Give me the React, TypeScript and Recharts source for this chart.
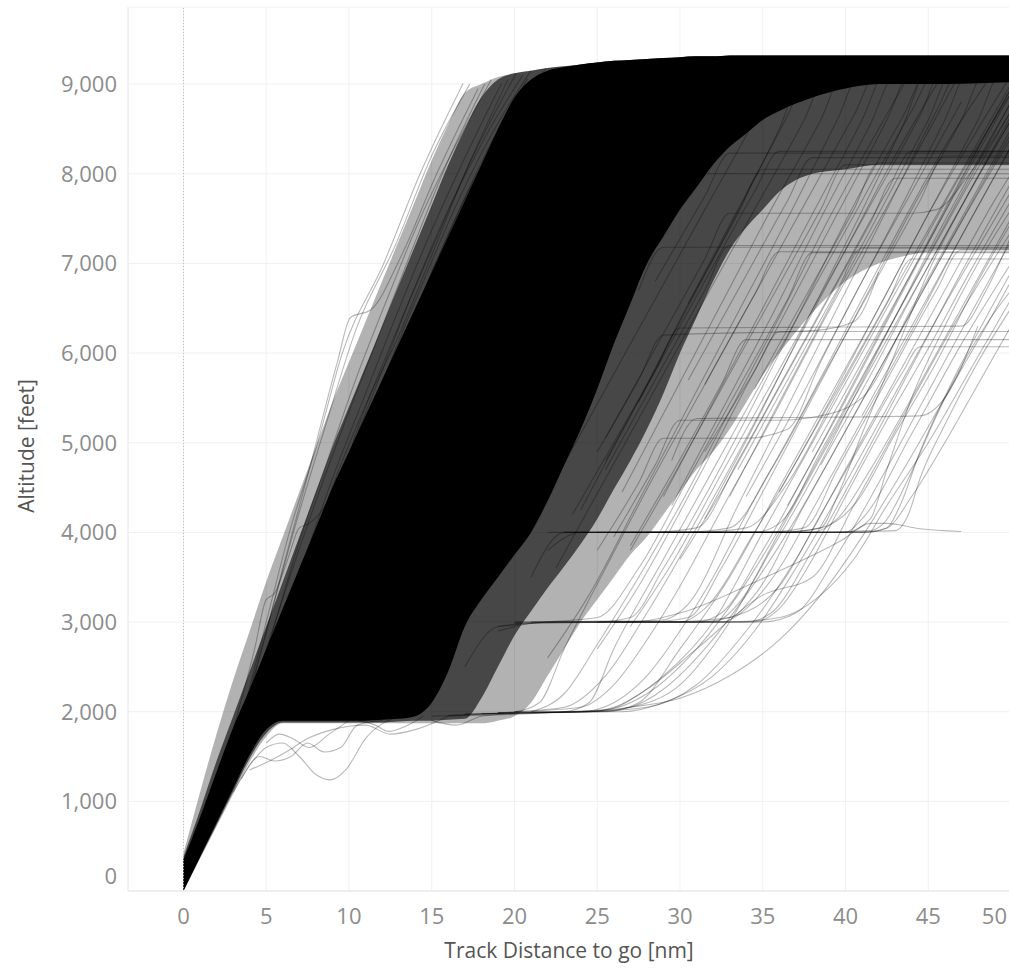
import React from "react";
import {
  ComposedChart,
  Line,
  Area,
  XAxis,
  YAxis,
  CartesianGrid,
  ReferenceLine,
} from "recharts";

const distanceTicks = [0, 5, 10, 15, 20, 25, 30, 35, 40, 45, 50];
const altitudeTicks = [0, 1000, 2000, 3000, 4000, 5000, 6000, 7000, 8000, 9000];

// density envelopes of the overlapping tracks
const envDistance = [0, 1, 2, 3, 4, 5, 6, 7, 8, 9, 10, 11, 12, 13, 14, 15, 16, 17, 18, 19, 20, 21, 22, 23, 24, 25, 26, 27, 28, 29, 30, 31, 32, 33, 34, 35, 36, 38, 40, 42, 44, 46, 48, 50];
const solidHigh = [350, 820, 1330, 1820, 2250, 2700, 3150, 3600, 4050, 4500, 4900, 5300, 5700, 6100, 6500, 6900, 7300, 7700, 8100, 8500, 8850, 9050, 9150, 9190, 9220, 9240, 9260, 9270, 9280, 9290, 9300, 9310, 9310, 9320, 9320, 9320, 9320, 9320, 9320, 9320, 9320, 9320, 9320, 9320];
const solidLow = [0, 380, 760, 1140, 1520, 1800, 1900, 1900, 1900, 1900, 1900, 1900, 1910, 1920, 1950, 2100, 2450, 2950, 3250, 3500, 3750, 4000, 4350, 4750, 5150, 5600, 6100, 6550, 7000, 7300, 7600, 7850, 8100, 8300, 8450, 8600, 8700, 8850, 8950, 9000, 9000, 9000, 9010, 9020];
const midHigh = [380, 900, 1450, 1950, 2450, 2950, 3450, 3950, 4450, 4950, 5400, 5850, 6300, 6750, 7200, 7650, 8100, 8500, 8850, 9050, 9120, 9150, 9180, 9200, 9220, 9240, 9260, 9270, 9280, 9290, 9300, 9310, 9310, 9320, 9320, 9320, 9320, 9320, 9320, 9320, 9320, 9320, 9320, 9320];
const midLow = [0, 370, 740, 1110, 1480, 1760, 1880, 1880, 1880, 1880, 1880, 1880, 1880, 1890, 1900, 1900, 1910, 1920, 2150, 2500, 2850, 3120, 3380, 3620, 3870, 4150, 4480, 4800, 5150, 5550, 6000, 6400, 6800, 7150, 7400, 7600, 7800, 8000, 8050, 8100, 8100, 8100, 8100, 8100];
const lightHigh = [420, 1100, 1750, 2350, 2900, 3450, 3950, 4450, 4950, 5450, 5900, 6350, 6800, 7250, 7700, 8150, 8550, 8900, 9000, 9080, 9120, 9150, 9180, 9200, 9220, 9240, 9260, 9270, 9280, 9290, 9300, 9310, 9310, 9320, 9320, 9320, 9320, 9320, 9320, 9320, 9320, 9320, 9320, 9320];
const lightLow = [0, 360, 720, 1080, 1440, 1720, 1870, 1870, 1870, 1870, 1870, 1870, 1870, 1870, 1870, 1870, 1870, 1870, 1870, 1900, 1950, 2100, 2400, 2700, 3000, 3250, 3500, 3750, 3950, 4200, 4450, 4700, 4900, 5150, 5450, 5750, 6000, 6450, 6800, 7000, 7100, 7150, 7150, 7150];

// single tracks: pairs of [distance nm, altitude ft]
const upperFringeTracks = [
  [16.9, 9010, 14.3, 8000, 12.1, 7000, 9.6, 6000, 8.1, 5000, 6.4, 4000, 5.0, 3000, 3.6, 2000, 1.7, 1000, 0.1, 300],
  [17.3, 9000, 15.0, 8200, 12.8, 7200, 10.5, 6300, 8.6, 5200, 6.8, 4100, 5.3, 3100, 3.8, 2100, 2.0, 1100, 0.2, 320],
  [17.8, 8950, 15.3, 8000, 13.2, 7100, 11.3, 6480, 10.1, 6400, 9.3, 5900, 7.6, 4700, 6.0, 3600, 4.3, 2400, 2.2, 1200, 0.3, 330],
  [18.6, 9050, 16.4, 8300, 14.3, 7500, 12.3, 6600, 10.4, 5700, 8.7, 4800, 7.0, 3900, 5.4, 2900, 3.9, 2000, 2.1, 1050],
  [19.2, 9000, 16.8, 8100, 14.6, 7200, 12.6, 6300, 10.9, 5500, 9.0, 4600, 7.3, 3700, 5.7, 2900, 4.2, 2100],
  [20.1, 9120, 17.5, 8200, 15.1, 7200, 13.0, 6300, 11.0, 5400, 9.2, 4500, 7.6, 4100, 7.0, 4050, 6.3, 3700, 5.5, 3320, 5.0, 3250, 4.3, 2700, 3.0, 1800, 1.5, 900],
  [20.5, 9100, 18.2, 8400, 16.0, 7600, 13.9, 6700, 12.0, 5800, 10.1, 4900, 8.3, 4000, 6.6, 3100, 5.0, 2300],
  [21.0, 9150, 18.8, 8500, 16.6, 7700, 14.5, 6800, 12.5, 5900, 10.6, 5000, 8.8, 4100, 7.0, 3200, 5.4, 2400],
  [21.4, 9100, 19.4, 8500, 17.2, 7800, 15.0, 6900, 13.0, 6000, 11.1, 5100, 9.3, 4200, 7.5, 3300],
  [21.9, 9180, 19.8, 8600, 17.6, 7900, 15.6, 7100, 13.6, 6200, 11.6, 5250, 9.7, 4300, 7.9, 3400],
  [19.6, 9050, 17.0, 8000, 14.8, 7000, 12.9, 6150, 11.2, 5500, 9.4, 4700, 7.8, 3900, 6.2, 3200, 4.7, 2500],
  [18.2, 9000, 16.0, 8150, 13.7, 7100, 11.6, 6100, 9.8, 5250, 8.2, 4450, 6.6, 3600, 5.1, 2750, 3.6, 1900],
  [20.8, 9060, 18.6, 8350, 16.2, 7400, 14.0, 6450, 12.0, 5550, 10.2, 4700, 8.5, 3850, 6.8, 3000, 5.2, 2250],
];

const lowLoopTracks = [
  [13.0, 1950, 11.0, 1700, 9.8, 1350, 8.9, 1240, 8.0, 1300, 7.0, 1500, 6.0, 1650, 5.0, 1600, 4.2, 1450, 3.0, 1100],
  [12.0, 1900, 10.5, 1850, 9.5, 1600, 8.5, 1550, 7.5, 1650, 6.5, 1500, 5.5, 1450, 4.6, 1500, 3.5, 1250],
  [16.0, 1950, 14.0, 1800, 12.5, 1750, 11.0, 1850, 9.0, 1800, 7.5, 1700, 6.2, 1550, 5.2, 1450, 4.0, 1350],
  [10.0, 1900, 8.8, 1750, 7.6, 1600, 6.6, 1700, 5.8, 1750, 5.0, 1650],
  [14.5, 1950, 13.2, 1820, 12.4, 1780, 11.6, 1850, 10.6, 1900],
  [20.0, 1980, 18.0, 1950, 16.5, 1850, 15.0, 1900],
];

const toTwoThousandTracks = [
  [50, 9150, 45.5, 9150, 44, 8700, 41, 7700, 38, 6700, 35, 5700, 32, 4700, 29, 3700, 26, 2700, 24.5, 2100, 23, 2000, 16, 1950],
  [50, 9150, 42, 9150, 40.5, 8650, 37.5, 7650, 34.5, 6650, 31.5, 5650, 28.5, 4650, 25.5, 3600, 23, 2700, 21.5, 2100, 20, 2000, 15, 1950],
  [50, 8900, 47, 8000, 44, 7000, 41, 6000, 38, 5000, 35, 4000, 32, 3000, 29, 2400, 26, 2050, 24.5, 2000, 18, 1980],
  [50, 9100, 48, 8500, 45, 7550, 42, 6500, 39, 5500, 36, 4500, 33, 3500, 30, 2700, 27.5, 2100, 25.5, 2000, 20, 2000],
  [50, 7350, 46.5, 6300, 43.5, 5300, 40.5, 4300, 38, 3500, 35, 3300, 31, 2700, 28, 2250, 25.5, 2020, 23.5, 2000, 17, 1970],
  [50, 8000, 49, 7700, 46, 6700, 43, 5700, 40, 4700, 37, 3700, 34, 2900, 31, 2300, 28, 2050, 24.5, 2000, 17, 1980],
  [50, 8800, 46.5, 7600, 43, 6400, 39.5, 5200, 36.5, 4200, 33.5, 3300, 31, 2700, 28, 2200, 25.5, 2020, 23, 2000, 16, 1960],
  [50, 7800, 46.5, 6700, 43, 5550, 40, 4550, 37, 3600, 34.5, 2900, 32, 2400, 29, 2100, 26.5, 2000, 21, 2000],
  [49, 9150, 46, 8300, 43, 7300, 40, 6250, 37, 5200, 34, 4200, 32, 3500, 30, 2900, 28, 2400, 26, 2100, 24, 2000, 19, 1990],
  [50, 8450, 48, 7800, 45, 6800, 42, 5800, 39, 4800, 36.5, 4000, 34, 3300, 31.5, 2700, 29, 2250, 27, 2050, 25, 2000, 19, 1990],
  [47, 9150, 44.5, 8300, 41.5, 7300, 38.5, 6300, 35.5, 5250, 32.5, 4250, 30, 3400, 28, 2800, 26, 2300, 24, 2050, 20, 2000],
  [44, 9150, 42, 8500, 39, 7500, 36, 6400, 33, 5350, 30, 4300, 27.5, 3500, 25, 2750, 23, 2200, 21, 2000],
  [50, 6800, 48.5, 6300, 46, 5500, 43.5, 4700, 41, 3950, 38.5, 3300, 36, 2800, 33, 2400, 30, 2150, 27, 2050, 24, 2000, 18, 1980],
  [50, 8650, 46, 7300, 42.5, 6150, 39, 5000, 36, 4000, 33, 3000, 30, 2300, 27, 2050, 24.5, 2000, 19, 1990],
  [46, 9150, 43, 8200, 40, 7150, 37, 6100, 34, 5050, 31, 4050, 28, 3100, 25.5, 2400, 23, 2050, 20, 2000],
];

const toThreeThousandTracks = [
  [50, 9180, 47, 9180, 45.5, 8700, 42.5, 7600, 39.5, 6500, 36.5, 5400, 33.5, 4300, 30.5, 3200, 28.8, 3020, 22, 3000, 19, 2950, 17, 2500],
  [50, 6070, 44.5, 6070, 43.5, 5800, 41, 5000, 38.5, 4200, 36, 3400, 33, 3050, 31, 3000, 22, 3000, 19, 2900],
  [50, 7900, 47, 6900, 44, 5850, 41, 4800, 38, 3800, 35.5, 3100, 34, 3000, 28, 3000, 20, 2980],
  [50, 8400, 46.5, 7300, 43.5, 6300, 40.5, 5300, 37.5, 4300, 34.5, 3300, 33, 3050, 29, 3000, 21, 3000],
  [50, 9150, 48.5, 9150, 47, 8600, 44, 7600, 41, 6550, 38, 5500, 35, 4450, 32.5, 3600, 30.5, 3050, 28, 3000, 20, 3000],
  [50, 7120, 38, 7120, 36.5, 6600, 33.5, 5600, 30.5, 4600, 27.5, 3600, 25, 3050, 22, 3000, 19, 2950],
  [50, 7700, 47.5, 6900, 45, 6050, 42.5, 5250, 40, 4400, 38, 3700, 36, 3150, 34.5, 3000, 30, 3000, 24, 3000],
  [50, 9000, 46, 7700, 42, 6400, 38, 5100, 34.5, 4000, 31.5, 3150, 30, 3000, 26, 3000, 20, 2990],
  [47, 4010, 44.5, 4040, 42.5, 4100, 41.5, 4100, 39.8, 3915, 34.8, 3470, 30, 3100, 27, 3000, 21, 3000],
  [50, 8300, 47, 7300, 44, 6250, 41, 5250, 38, 4250, 36, 3600, 34, 3150, 32.5, 3000, 25, 3000],
  [50, 6600, 47.5, 5800, 45, 5000, 42.5, 4300, 40.5, 3700, 38.5, 3300, 36, 3050, 33, 3000, 26, 3000],
  [50, 8950, 47, 7950, 44, 6900, 41, 5850, 38, 4800, 35, 3800, 32.5, 3100, 31, 3000, 25, 3000],
  [50, 9150, 45, 9150, 43.5, 8650, 40.5, 7650, 37.5, 6550, 34.5, 5450, 31.5, 4400, 29, 3600, 27, 3050, 25, 3000, 20, 3000],
  [50, 8800, 48, 8150, 45.5, 7300, 43, 6400, 40.5, 5500, 38, 4600, 35.5, 3800, 33.5, 3200, 32, 3000, 26, 3000],
  [50, 7250, 47, 6250, 44.5, 5400, 42, 4550, 39.5, 3750, 37, 3100, 35, 3000, 29, 3000],
];

const toFourThousandTracks = [
  [50, 8250, 44, 8250, 42.5, 7800, 39.5, 6800, 36.5, 5800, 33.5, 4800, 31, 4050, 28, 4000, 23, 4000, 21, 3500],
  [50, 7150, 47, 7150, 45.5, 6700, 42.5, 5700, 39.5, 4700, 37.5, 4050, 35, 4000, 24, 4000, 22, 3800],
  [50, 7600, 48, 7000, 46, 6300, 44, 5500, 42.5, 4700, 41.5, 4150, 40, 4000, 30, 4000, 23, 4000],
  [50, 8600, 47.5, 7800, 45, 6900, 43, 6000, 41, 5100, 39.5, 4400, 38.5, 4050, 36, 4000, 25, 4000],
  [50, 6900, 48.5, 6400, 46.5, 5700, 44.5, 4900, 43.3, 4300, 42.5, 4050, 41, 4000, 27, 4000],
  [50, 6700, 48.8, 6400, 47.3, 5950, 45.5, 5300, 43.8, 4600, 42.3, 4100, 41.5, 4020, 38, 4000, 26, 4000],
  [50, 8200, 46, 8200, 44.5, 7700, 41.5, 6700, 38.5, 5700, 35.5, 4700, 33, 4050, 30, 4000, 22, 4000],
  [50, 7050, 44, 7050, 42.5, 6550, 39.5, 5550, 36.5, 4550, 34, 4050, 31, 4000, 23, 4000],
  [50, 8700, 47.5, 7900, 44.5, 6900, 41.5, 5900, 38.5, 4900, 36, 4100, 34.5, 4000, 30, 4000, 24, 4000],
  [50, 6500, 48, 5900, 46, 5200, 44.5, 4600, 43.8, 4200, 43, 4020, 39, 4000, 29, 4000],
  [50, 6300, 48, 5650, 46, 5000, 44, 4400, 42.5, 4050, 41, 4000, 33, 4000],
  [50, 7500, 47, 6500, 44, 5500, 41.5, 4700, 39.5, 4150, 38, 4000, 28, 4000],
  [50, 7000, 47, 6100, 44, 5100, 41, 4150, 40, 4000, 30, 4000],
  [50, 7450, 48, 6800, 45.5, 5900, 43, 5100, 40.5, 4300, 38.5, 4050, 36, 4000, 28, 4000],
];

const midLevelTracks = [
  [50, 9150, 36, 9150, 34.5, 8600, 31.5, 7600, 28.5, 6600, 25.5, 5600, 22.5, 4600],
  [50, 9150, 39, 9150, 37.5, 8600, 34.5, 7600, 31.5, 6600, 28.5, 5600, 25.5, 4600, 22.5, 3600],
  [50, 9150, 41, 9150, 39.5, 8600, 36.5, 7500, 33.5, 6450, 30.5, 5400, 27.5, 4350, 24.5, 3300, 22, 2600],
  [50, 9150, 44, 9150, 42.5, 8600, 39.5, 7550, 36.5, 6500, 33.5, 5450, 30.5, 4400, 27.5, 3400, 25, 2700],
  [50, 9200, 46, 9200, 44.5, 8650, 41.5, 7650, 38.5, 6650, 35.5, 5650, 32.5, 4650, 29.5, 3650, 27, 2950],
  [50, 9100, 37.5, 9100, 36, 8500, 33, 7400, 30, 6350, 27, 5300, 24, 4250],
  [50, 9150, 33, 9150, 31.5, 8600, 28.5, 7500, 25.5, 6450, 23, 5500],
  [50, 8250, 36, 8250, 34.5, 7800, 31.5, 6800, 28.5, 5800, 25.5, 4800],
  [50, 8100, 40, 8100, 38.5, 7600, 35.5, 6600, 32.5, 5600, 29.5, 4600, 27, 3800],
  [50, 8000, 31, 8000, 29.5, 7500, 26.5, 6500],
  [50, 7950, 43, 7950, 41.5, 7450, 38.5, 6450, 35.5, 5450, 32.5, 4450, 30, 3700],
  [50, 7200, 33, 7200, 31.5, 6700, 28.5, 5700, 25.5, 4700],
  [50, 7180, 29, 7180, 27.5, 6700],
  [50, 8700, 47.5, 8000, 45.5, 7600, 44, 7560, 33, 7560, 31.5, 7050, 28.5, 6050, 25.5, 5050],
  [50, 7300, 48.5, 6700, 47, 6300, 40, 6290, 30, 6280, 28.5, 5800, 26, 5000, 23.5, 4200],
  [50, 6150, 34, 6150, 32.5, 5650, 29.5, 4650, 27, 3850],
  [42, 6900, 40.5, 6350, 38, 6250, 29, 6200, 27.5, 5700, 25, 4900],
  [50, 8500, 47, 7500, 44, 6500, 41, 5500, 38.5, 5300, 36, 5250, 30, 5250, 28.5, 4750, 26, 3950],
  [47, 8800, 44, 7800, 41, 6800, 38.5, 5900, 36.5, 5150, 34, 5050, 29, 5050, 27.5, 4550, 25, 3800],
  [50, 8230, 33, 8230, 31.5, 7750, 28.5, 6800],
  [50, 8180, 38, 8180, 36.5, 7700, 33.5, 6700, 30.5, 5700],
  [50, 8050, 35, 8050, 33.5, 7550, 30.5, 6550],
  [50, 8120, 42, 8120, 40.5, 7600, 37.5, 6600, 34.5, 5600],
  [50, 7130, 36, 7130, 34.5, 6650, 31.5, 5650],
  [50, 7170, 41, 7170, 39.5, 6700, 36.5, 5700, 33.5, 4700],
  [50, 6240, 36, 6240, 34.5, 5800, 31.5, 4900],
  [48, 6300, 46, 5500, 44.5, 5300, 36, 5280, 31, 5270, 29.5, 4800],
];

const upperHatchTracks = [
  [50, 9150, 47.5, 9150, 46, 8600, 43, 7500, 40, 6450, 37, 5400, 34, 4400],
  [50, 9150, 49.5, 9150, 48, 8600, 45, 7550, 42, 6500, 39, 5450, 36, 4450],
  [50, 9100, 43, 9100, 41.5, 8550, 38.5, 7500, 35.5, 6400, 32.5, 5350, 29.5, 4300],
  [50, 9150, 40, 9150, 38.5, 8600, 35.5, 7600, 32.5, 6550, 29.5, 5500, 26.5, 4450],
  [50, 9200, 38, 9200, 36.5, 8650, 33.5, 7600, 30.5, 6550, 27.5, 5450],
  [50, 9150, 45, 9150, 43.5, 8550, 40.5, 7400, 37.5, 6300, 34.5, 5200, 31.5, 4150],
  [50, 8950, 48.5, 8450, 45.5, 7400, 42.5, 6350, 39.5, 5300, 36.5, 4300],
  [50, 8600, 47.5, 7800, 44.5, 6800, 41.5, 5750, 38.5, 4750],
  [50, 9150, 42.5, 9150, 41, 8600, 38, 7550, 35, 6500, 32, 5450, 29, 4400],
  [50, 9150, 46.5, 9150, 45, 8600, 42, 7550, 39, 6500, 36, 5450, 33, 4400],
  [50, 8300, 47, 7300, 44, 6300, 41, 5300],
  [50, 8900, 47, 7900, 44, 6900, 41, 5900, 38, 4900],
];

const allTracks = [
  ...upperFringeTracks,
  ...lowLoopTracks,
  ...toTwoThousandTracks,
  ...toThreeThousandTracks,
  ...toFourThousandTracks,
  ...midLevelTracks,
  ...upperHatchTracks,
];

const toPoints = (flat: number[]) => {
  const pts: { d: number; alt: number }[] = [];
  for (let i = 0; i < flat.length; i += 2) pts.push({ d: flat[i], alt: flat[i + 1] });
  return pts.sort((a, b) => a.d - b.d);
};

const envelope = envDistance.map((d, i) => ({
  d,
  solid: [solidLow[i], solidHigh[i]],
  mid: [midLow[i], midHigh[i]],
  light: [lightLow[i], lightHigh[i]],
}));

const tickFont = { fontFamily: "'Open Sans', sans-serif", fontSize: 22, fill: "#8c8c8c" };

const XTick = (props: any) => {
  const { x, payload } = props;
  const last = payload.value === 50;
  return (
    <text x={last ? 1007 : x} y={924} textAnchor={last ? "end" : "middle"} {...tickFont}>
      {payload.value}
    </text>
  );
};

const YTick = (props: any) => {
  const { y, payload } = props;
  const yy = payload.value === 0 ? y - 7 : y + 8;
  return (
    <text x={117} y={yy} textAnchor="end" {...tickFont}>
      {payload.value.toLocaleString("en-US")}
    </text>
  );
};

export default function App() {
  return (
    <div
      style={{
        position: "fixed",
        left: 0,
        top: 0,
        width: 1009,
        height: 970,
        overflow: "hidden",
        background: "#fff",
      }}
    >
      <ComposedChart
        width={1015}
        height={970}
        data={envelope}
        margin={{ top: 7, right: 4, bottom: 0, left: 0 }}
      >
        <CartesianGrid stroke="#f0f0f0" />
        <XAxis
          type="number"
          dataKey="d"
          domain={[-3.35, 50]}
          ticks={distanceTicks}
          allowDataOverflow
          height={79}
          axisLine={{ stroke: "#e6e6e6" }}
          tickLine={false}
          tick={<XTick />}
          interval={0}
        />
        <YAxis
          type="number"
          domain={[0, 9860]}
          ticks={altitudeTicks}
          allowDataOverflow
          width={128}
          axisLine={{ stroke: "#ececec" }}
          tickLine={false}
          tick={<YTick />}
          interval={0}
        />
        <ReferenceLine x={0} stroke="#bdbdbd" strokeDasharray="1 2" />
        <Area dataKey="light" type="monotone" stroke="none" fill="#000" fillOpacity={0.3} isAnimationActive={false} />
        <Area dataKey="mid" type="monotone" stroke="none" fill="#000" fillOpacity={0.6} isAnimationActive={false} />
        <Area dataKey="solid" type="monotone" stroke="none" fill="#000" fillOpacity={1} isAnimationActive={false} />
        {allTracks.map((t, i) => (
          <Line
            key={i}
            data={toPoints(t)}
            dataKey="alt"
            type="monotone"
            stroke="#000"
            strokeOpacity={0.28}
            strokeWidth={1.1}
            dot={false}
            activeDot={false}
            isAnimationActive={false}
          />
        ))}
      </ComposedChart>
      <div
        style={{
          position: "absolute",
          left: 0,
          width: 1138,
          top: 936,
          textAlign: "center",
          fontFamily: "'Open Sans', sans-serif",
          fontSize: 21,
          color: "#555",
          whiteSpace: "nowrap",
        }}
      >
        Track Distance to go [nm]
      </div>
      <div
        style={{
          position: "absolute",
          left: 26,
          top: 446,
          transform: "translate(-50%, -50%) rotate(-90deg)",
          fontFamily: "'Open Sans', sans-serif",
          fontSize: 21,
          color: "#555",
          whiteSpace: "nowrap",
        }}
      >
        Altitude [feet]
      </div>
    </div>
  );
}
